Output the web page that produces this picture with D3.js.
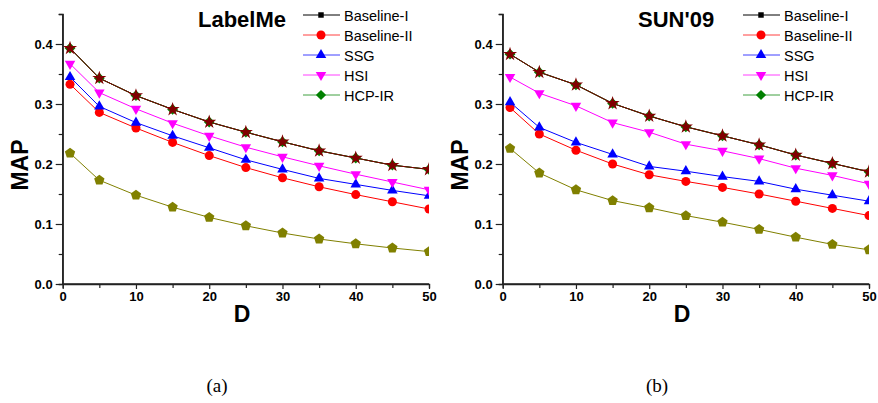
<!DOCTYPE html>
<html>
<head>
<meta charset="utf-8"/>
<title>MAP vs D</title>
<style>
  body, html {margin:0;padding:0;background:#fff;}
  svg {display:block;}
  text {font-family:"Liberation Sans", Arial, sans-serif;}
  text.caption {font-family:"Liberation Serif", "DejaVu Serif", serif;}
</style>
<script src="https://cdn.jsdelivr.net/npm/d3@7"></script>
</head>
<body>
<svg id="chart" width="878" height="403"></svg>
<script>
// x values (D)
var D = [1, 5, 10, 15, 20, 25, 30, 35, 40, 45, 50];
var seriesNames = ["Baseline-I", "Baseline-II", "SSG", "HSI", "HCP-IR"];
var yTicks = [0.0, 0.1, 0.2, 0.3, 0.4];
var xTicks = [0, 10, 20, 30, 40, 50];

// LabelMe (a)
var lmBaseline1 = [0.393, 0.343, 0.314, 0.291, 0.270, 0.253, 0.237, 0.222, 0.210, 0.198, 0.191];
var lmBaseline2 = [0.333, 0.286, 0.260, 0.236, 0.214, 0.194, 0.177, 0.162, 0.149, 0.137, 0.125];
var lmSSG       = [0.345, 0.296, 0.269, 0.247, 0.227, 0.207, 0.191, 0.176, 0.166, 0.156, 0.147];
var lmHSI       = [0.367, 0.319, 0.292, 0.268, 0.247, 0.228, 0.212, 0.197, 0.183, 0.170, 0.157];
var lmHCPIR     = [0.393, 0.343, 0.314, 0.291, 0.270, 0.253, 0.237, 0.222, 0.210, 0.198, 0.191];
var lmOlive     = [0.218, 0.173, 0.148, 0.128, 0.111, 0.097, 0.085, 0.075, 0.067, 0.060, 0.054];
var lmStar      = [0.393, 0.343, 0.314, 0.291, 0.270, 0.253, 0.237, 0.222, 0.210, 0.198, 0.191];

// SUN'09 (b)
var sunBaseline1 = [0.383, 0.353, 0.332, 0.301, 0.280, 0.262, 0.247, 0.232, 0.215, 0.201, 0.187];
var sunBaseline2 = [0.294, 0.250, 0.223, 0.200, 0.182, 0.171, 0.161, 0.150, 0.138, 0.126, 0.114];
var sunSSG       = [0.303, 0.261, 0.236, 0.216, 0.196, 0.188, 0.179, 0.171, 0.158, 0.148, 0.138];
var sunHSI       = [0.345, 0.318, 0.297, 0.269, 0.253, 0.233, 0.222, 0.209, 0.193, 0.181, 0.167];
var sunHCPIR     = [0.383, 0.353, 0.332, 0.301, 0.280, 0.262, 0.247, 0.232, 0.215, 0.201, 0.187];
var sunOlive     = [0.226, 0.185, 0.157, 0.139, 0.127, 0.114, 0.103, 0.091, 0.078, 0.066, 0.057];
var sunStar      = [0.383, 0.353, 0.332, 0.301, 0.280, 0.262, 0.247, 0.232, 0.215, 0.201, 0.187];

// marker shapes
var pentagon = {
  draw: function (ctx, size) {
    var r = Math.sqrt(size / 2.378);
    for (var i = 0; i < 5; i++) {
      var a = -Math.PI / 2 + i * 2 * Math.PI / 5;
      if (i === 0) ctx.moveTo(r * Math.cos(a), r * Math.sin(a));
      else ctx.lineTo(r * Math.cos(a), r * Math.sin(a));
    }
    ctx.closePath();
  }
};
var styles = {
  b1:   {color: "#000000", symbol: d3.symbolSquare, size: 30, rot: 0, plotSize: 22},
  b2:   {color: "#ff0000", symbol: d3.symbolCircle, size: 64, rot: 0},
  ssg:  {color: "#0000ff", symbol: d3.symbolTriangle, size: 48, rot: 0},
  hsi:  {color: "#ff00ff", symbol: d3.symbolTriangle, size: 48, rot: 180},
  hcp:  {color: "#008000", symbol: d3.symbolSquare, size: 52, rot: 45, plotSize: 58},
  olive:{color: "#808000", symbol: pentagon, size: 70, rot: 0},
  star: {color: "#800000", symbol: d3.symbolStar, size: 62, rot: 0}
};

var svg = d3.select("#chart");

function drawPanel(offsetX, title, caption, rows) {
  var g = svg.append("g").attr("transform", "translate(" + offsetX + ",0)");
  var x = d3.scaleLinear().domain([0, 50]).range([62.7, 429]);
  var y = d3.scaleLinear().domain([0, 0.45]).range([284, 14]);

  var clipId = "clip" + offsetX;
  g.append("clipPath").attr("id", clipId).append("rect")
    .attr("x", x(0) - 10).attr("y", 0).attr("width", x(50) - x(0) + 10).attr("height", 290);

  var plot = g.append("g").attr("clip-path", "url(#" + clipId + ")");
  var line = d3.line().x(function (d) { return x(d[0]); }).y(function (d) { return y(d[1]); });

  rows.forEach(function (r) {
    var st = styles[r.style];
    var pts = D.map(function (d, i) { return [d, r.values[i]]; });
    plot.append("path").datum(pts).attr("d", line)
      .attr("fill", "none").attr("stroke", st.color).attr("stroke-width", 1);
    var sym = d3.symbol().type(st.symbol).size(st.plotSize || st.size);
    plot.selectAll(null).data(pts).enter().append("path")
      .attr("d", sym)
      .attr("transform", function (d) { return "translate(" + x(d[0]) + "," + y(d[1]) + ") rotate(" + st.rot + ")"; })
      .attr("fill", st.color);
  });

  // axes
  var yAxis = d3.axisLeft(y).tickValues(yTicks).tickSize(7).tickPadding(3)
    .tickFormat(d3.format(".1f"));
  var yMinor = d3.axisLeft(y).tickValues([0.05, 0.15, 0.25, 0.35, 0.45]).tickSize(4).tickFormat("");
  var xAxis = d3.axisBottom(x).tickValues(xTicks).tickSize(5).tickPadding(3).tickFormat(d3.format("d"));
  var xMinor = d3.axisBottom(x).tickValues([5, 15, 25, 35, 45]).tickSize(4).tickFormat("");

  var ya = g.append("g").attr("transform", "translate(" + x(0) + ",0)").call(yAxis);
  g.append("g").attr("transform", "translate(" + x(0) + ",0)").call(yMinor);
  var xa = g.append("g").attr("transform", "translate(0," + y(0) + ")").call(xAxis);
  g.append("g").attr("transform", "translate(0," + y(0) + ")").call(xMinor);
  g.selectAll(".domain").attr("stroke", "#222").attr("stroke-width", 1.3);
  g.selectAll(".tick line").attr("stroke", "#222").attr("stroke-width", 1.2);
  g.selectAll(".tick text").attr("font-size", 13).attr("font-weight", "bold").attr("fill", "#000");
  // plain domain lines without end caps
  g.selectAll(".domain").filter(function () { return this.parentNode === ya.node(); })
    .attr("d", "M0," + y(0.45) + "V" + y(0));
  xa.select(".domain").attr("d", "M" + x(0) + ",0H" + x(50));

  // axis titles
  g.append("text").attr("transform", "translate(28,165) rotate(-90)")
    .attr("text-anchor", "middle").attr("font-size", 23).attr("font-weight", "bold").text("MAP");
  g.append("text").attr("x", 242).attr("y", 322)
    .attr("text-anchor", "middle").attr("font-size", 23).attr("font-weight", "bold").text("D");

  // title
  g.append("text").attr("x", 198).attr("y", 27)
    .attr("font-size", 22).attr("font-weight", "bold").text(title);

  // legend
  var legendKeys = ["b1", "b2", "ssg", "hsi", "hcp"];
  legendKeys.forEach(function (k, i) {
    var st = styles[k];
    var ly = 15 + i * 20;
    g.append("line").attr("x1", 303).attr("x2", 340).attr("y1", ly).attr("y2", ly)
      .attr("stroke", st.color).attr("stroke-width", 1).attr("stroke-opacity", k === "b1" ? 1 : 0.75);
    g.append("path").attr("d", d3.symbol().type(st.symbol).size(st.size)())
      .attr("transform", "translate(321," + ly + ") rotate(" + st.rot + ")")
      .attr("fill", st.color);
    g.append("text").attr("x", 344).attr("y", ly + 5.5).attr("font-size", 14.5).text(seriesNames[i]);
  });

  // caption
  svg.append("text").attr("class", "caption").attr("x", offsetX + 217).attr("y", 392)
    .attr("text-anchor", "middle").attr("font-size", 19).text(caption);
}

drawPanel(0, "LabelMe", "(a)", [
  {style: "b1", values: lmBaseline1},
  {style: "b2", values: lmBaseline2},
  {style: "ssg", values: lmSSG},
  {style: "hsi", values: lmHSI},
  {style: "hcp", values: lmHCPIR},
  {style: "olive", values: lmOlive},
  {style: "star", values: lmStar}
]);
drawPanel(440, "SUN'09", "(b)", [
  {style: "b1", values: sunBaseline1},
  {style: "b2", values: sunBaseline2},
  {style: "ssg", values: sunSSG},
  {style: "hsi", values: sunHSI},
  {style: "hcp", values: sunHCPIR},
  {style: "olive", values: sunOlive},
  {style: "star", values: sunStar}
]);
</script>
</body>
</html>
